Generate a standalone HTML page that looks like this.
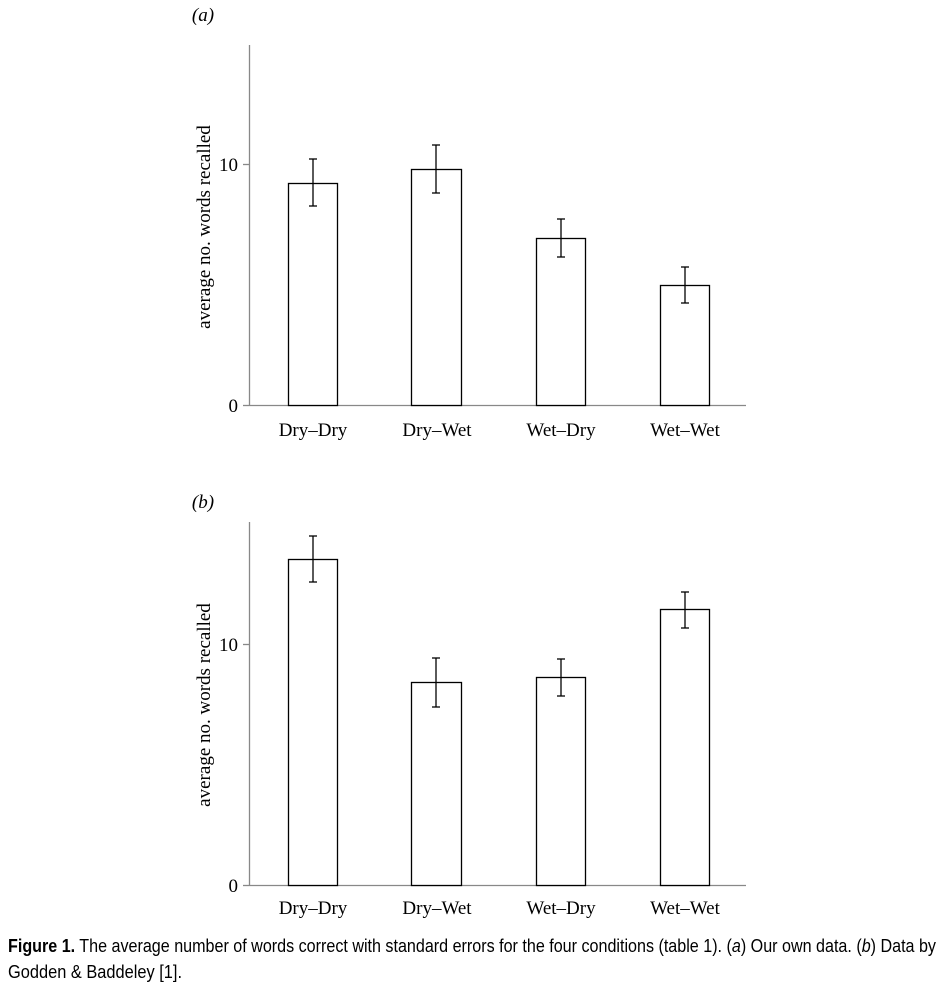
<!DOCTYPE html>
<html><head><meta charset="utf-8"><style>
body{margin:0;background:#fff;}
svg{display:block;}
</style></head><body>
<svg width="941" height="989" xmlns="http://www.w3.org/2000/svg" font-family="Liberation Serif, serif">
<g id="a">
<text x="203" y="21" font-size="19" font-style="italic" text-anchor="middle">(a)</text>
<line x1="249.5" y1="45" x2="249.5" y2="405" stroke="#888" stroke-width="1.3"/>
<line x1="249" y1="405.5" x2="746" y2="405.5" stroke="#888" stroke-width="1.3"/>
<line x1="243" y1="164.5" x2="249" y2="164.5" stroke="#888" stroke-width="1.3"/>
<line x1="243" y1="405.5" x2="249" y2="405.5" stroke="#888" stroke-width="1.3"/>
<text x="238" y="171" font-size="19" text-anchor="end">10</text>
<text x="238" y="412" font-size="19" text-anchor="end">0</text>
<text transform="translate(210,227) rotate(-90)" font-size="19" text-anchor="middle">average no. words recalled</text>
<g fill="#fff" stroke="#000" stroke-width="1.3">
<rect x="288.5" y="183.5" width="49" height="222"/>
<rect x="411.5" y="169.5" width="50" height="236"/>
<rect x="536.5" y="238.5" width="49" height="167"/>
<rect x="660.5" y="285.5" width="49" height="120"/>
</g>
<g stroke="#000" stroke-width="1.3">
<line x1="313" y1="159" x2="313" y2="206"/><line x1="309" y1="159" x2="317" y2="159"/><line x1="309" y1="206" x2="317" y2="206"/>
<line x1="436" y1="145" x2="436" y2="193"/><line x1="432" y1="145" x2="440" y2="145"/><line x1="432" y1="193" x2="440" y2="193"/>
<line x1="561" y1="219" x2="561" y2="257"/><line x1="557" y1="219" x2="565" y2="219"/><line x1="557" y1="257" x2="565" y2="257"/>
<line x1="685" y1="267" x2="685" y2="303"/><line x1="681" y1="267" x2="689" y2="267"/><line x1="681" y1="303" x2="689" y2="303"/>
</g>
<g font-size="19" text-anchor="middle">
<text x="313" y="436">Dry–Dry</text><text x="437" y="436">Dry–Wet</text><text x="561" y="436">Wet–Dry</text><text x="685" y="436">Wet–Wet</text>
</g>
</g>
<g id="b">
<text x="203" y="508" font-size="19" font-style="italic" text-anchor="middle">(b)</text>
<line x1="249.5" y1="522" x2="249.5" y2="885" stroke="#888" stroke-width="1.3"/>
<line x1="249" y1="885.5" x2="746" y2="885.5" stroke="#888" stroke-width="1.3"/>
<line x1="243" y1="644.5" x2="249" y2="644.5" stroke="#888" stroke-width="1.3"/>
<line x1="243" y1="885.5" x2="249" y2="885.5" stroke="#888" stroke-width="1.3"/>
<text x="238" y="651" font-size="19" text-anchor="end">10</text>
<text x="238" y="892" font-size="19" text-anchor="end">0</text>
<text transform="translate(210,705) rotate(-90)" font-size="19" text-anchor="middle">average no. words recalled</text>
<g fill="#fff" stroke="#000" stroke-width="1.3">
<rect x="288.5" y="559.5" width="49" height="326"/>
<rect x="411.5" y="682.5" width="50" height="203"/>
<rect x="536.5" y="677.5" width="49" height="208"/>
<rect x="660.5" y="609.5" width="49" height="276"/>
</g>
<g stroke="#000" stroke-width="1.3">
<line x1="313" y1="536" x2="313" y2="582"/><line x1="309" y1="536" x2="317" y2="536"/><line x1="309" y1="582" x2="317" y2="582"/>
<line x1="436" y1="658" x2="436" y2="707"/><line x1="432" y1="658" x2="440" y2="658"/><line x1="432" y1="707" x2="440" y2="707"/>
<line x1="561" y1="659" x2="561" y2="696"/><line x1="557" y1="659" x2="565" y2="659"/><line x1="557" y1="696" x2="565" y2="696"/>
<line x1="685" y1="592" x2="685" y2="628"/><line x1="681" y1="592" x2="689" y2="592"/><line x1="681" y1="628" x2="689" y2="628"/>
</g>
<g font-size="19" text-anchor="middle">
<text x="313" y="914">Dry–Dry</text><text x="437" y="914">Dry–Wet</text><text x="561" y="914">Wet–Dry</text><text x="685" y="914">Wet–Wet</text>
</g>
</g>
<g font-family="Liberation Sans Narrow, Liberation Sans, sans-serif" font-size="18">
<text x="8" y="952" textLength="928" lengthAdjust="spacingAndGlyphs"><tspan font-weight="bold">Figure 1.</tspan> The average number of words correct with standard errors for the four conditions (table 1). (<tspan font-style="italic">a</tspan>) Our own data. (<tspan font-style="italic">b</tspan>) Data by</text>
<text x="8" y="978" textLength="174" lengthAdjust="spacingAndGlyphs">Godden &amp; Baddeley [1].</text>
</g>
</svg>
</body></html>
